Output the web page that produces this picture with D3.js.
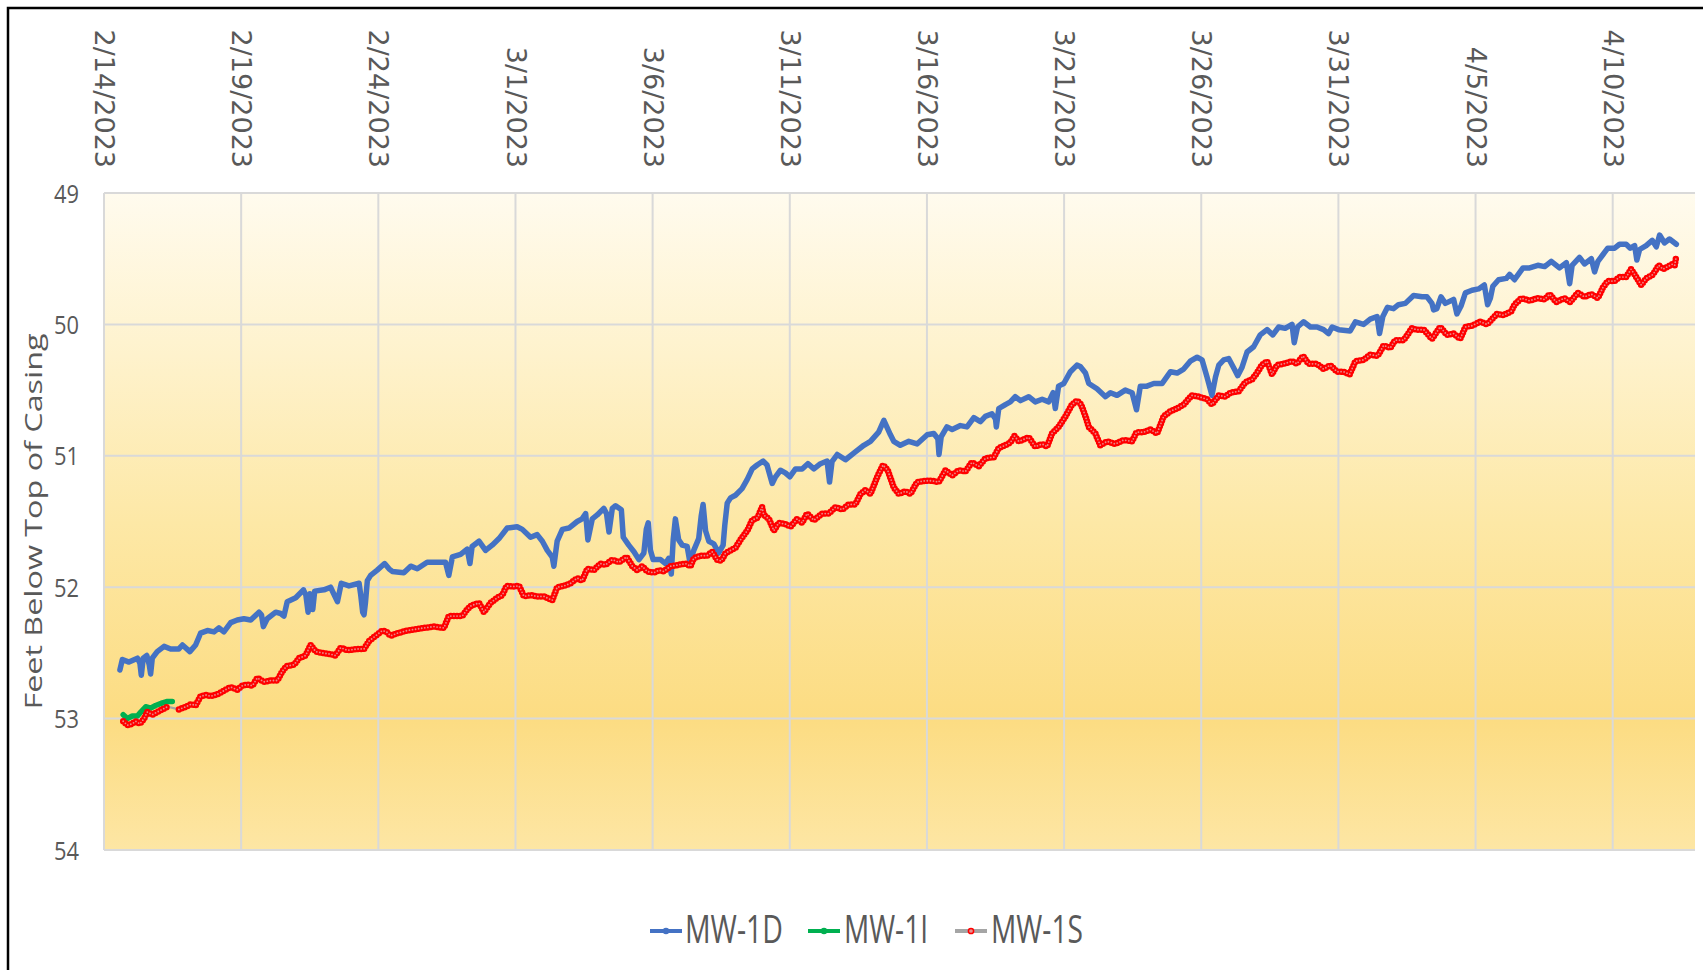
<!DOCTYPE html>
<html>
<head>
<meta charset="utf-8">
<script src="https://cdn.jsdelivr.net/npm/d3@7"></script>
<style>
  html, body { margin: 0; padding: 0; background: #ffffff; }
  svg { display: block; }
</style>
</head>
<body>
<svg id="chart" width="1703" height="970"></svg>
<script>
// ---------------- DATA ----------------
const startDateLabel = "2/14/2023";
const endDateLabel = "4/13/2023";
const xTickLabels = ["2/14/2023","2/19/2023","2/24/2023","3/1/2023","3/6/2023","3/11/2023",
                     "3/16/2023","3/21/2023","3/26/2023","3/31/2023","4/5/2023","4/10/2023"];
const yTickValues = [49, 50, 51, 52, 53, 54];
const yAxisTitle = "Feet Below Top of Casing";
const seriesNames = ["MW-1D", "MW-1I", "MW-1S"];

// days elapsed since 2/14/2023 00:00, and depth (ft below top of casing)
const mw1dDays = [0.58,0.67,0.91,1.22,1.31,1.36,1.43,1.56,1.65,1.70,1.76,1.94,2.19,2.43,2.73,2.86,3.13,3.34,3.52,3.77,4.01,4.19,4.37,4.62,4.86,5.10,5.35,5.65,5.74,5.81,5.95,6.26,6.44,6.56,6.68,6.99,7.27,7.36,7.44,7.51,7.61,7.68,8.02,8.26,8.51,8.65,8.93,9.30,9.36,9.43,9.48,9.53,9.60,9.72,9.96,10.23,10.39,10.51,10.93,11.18,11.42,11.78,12.03,12.45,12.57,12.70,13.00,13.24,13.34,13.42,13.67,13.91,14.15,14.40,14.70,15.06,15.25,15.55,15.79,15.98,16.16,16.34,16.40,16.52,16.71,16.95,17.25,17.43,17.56,17.64,17.80,17.98,18.22,18.32,18.41,18.53,18.65,18.86,18.93,19.13,19.32,19.50,19.68,19.77,19.84,19.92,20.02,20.29,20.47,20.59,20.68,20.75,20.83,20.95,21.08,21.26,21.36,21.50,21.68,21.77,21.84,21.93,22.05,22.23,22.41,22.57,22.63,22.72,22.84,23.02,23.26,23.45,23.63,23.81,24.03,24.17,24.36,24.48,24.66,24.84,25.00,25.21,25.45,25.66,25.88,26.12,26.36,26.45,26.54,26.73,27.03,27.39,27.70,27.94,28.24,28.43,28.67,28.79,29.03,29.34,29.64,30.01,30.25,30.40,30.44,30.52,30.73,30.92,31.22,31.46,31.71,31.95,32.13,32.37,32.50,32.53,32.62,32.86,33.04,33.22,33.41,33.71,33.95,34.20,34.44,34.60,34.68,34.80,34.99,35.23,35.47,35.59,35.78,35.90,36.20,36.51,36.69,36.93,37.23,37.48,37.64,37.78,38.02,38.27,38.57,38.88,39.12,39.36,39.60,39.85,40.03,40.21,40.39,40.52,40.64,40.82,41.00,41.18,41.33,41.48,41.67,41.91,42.15,42.40,42.61,42.82,43.06,43.31,43.39,43.51,43.73,43.98,44.22,44.46,44.64,44.77,45.01,45.43,45.62,45.92,46.16,46.41,46.50,46.62,46.79,47.01,47.19,47.44,47.74,48.05,48.23,48.41,48.47,48.59,48.74,48.90,49.20,49.32,49.47,49.63,49.87,50.11,50.32,50.44,50.54,50.63,50.84,51.12,51.24,51.42,51.73,51.97,52.27,52.52,52.76,53.06,53.31,53.37,53.43,53.52,53.79,53.97,54.22,54.34,54.46,54.64,54.82,55.07,55.25,55.49,55.64,55.80,55.88,55.98,56.22,56.44,56.59,56.71,56.89,57.07,57.32];
const mw1dValues = [52.63,52.55,52.57,52.54,52.58,52.67,52.54,52.52,52.59,52.66,52.54,52.49,52.45,52.47,52.47,52.44,52.49,52.44,52.35,52.33,52.34,52.31,52.34,52.27,52.25,52.24,52.25,52.19,52.21,52.30,52.24,52.19,52.20,52.22,52.11,52.08,52.02,52.06,52.19,52.05,52.17,52.03,52.02,52.00,52.11,51.97,51.99,51.97,52.06,52.19,52.21,52.12,51.95,51.91,51.87,51.82,51.86,51.88,51.89,51.84,51.86,51.81,51.81,51.81,51.91,51.77,51.75,51.71,51.82,51.69,51.65,51.72,51.68,51.63,51.55,51.54,51.56,51.62,51.60,51.65,51.72,51.77,51.84,51.65,51.56,51.55,51.50,51.48,51.44,51.64,51.48,51.45,51.40,51.44,51.58,51.40,51.38,51.41,51.62,51.68,51.73,51.79,51.74,51.56,51.51,51.72,51.79,51.79,51.82,51.78,51.90,51.64,51.48,51.64,51.68,51.69,51.81,51.72,51.63,51.46,51.37,51.57,51.65,51.67,51.74,51.68,51.53,51.36,51.32,51.30,51.25,51.18,51.10,51.07,51.04,51.07,51.21,51.16,51.11,51.13,51.16,51.10,51.10,51.06,51.10,51.06,51.04,51.20,51.045,50.99,51.03,50.97,50.92,50.89,50.82,50.73,50.84,50.89,50.92,50.89,50.91,50.84,50.83,50.87,50.99,50.855,50.78,50.80,50.77,50.78,50.71,50.74,50.70,50.68,50.72,50.78,50.64,50.61,50.59,50.55,50.58,50.55,50.59,50.57,50.59,50.52,50.64,50.47,50.45,50.36,50.31,50.32,50.37,50.45,50.49,50.55,50.52,50.54,50.50,50.52,50.65,50.47,50.47,50.45,50.45,50.36,50.37,50.34,50.28,50.25,50.27,50.40,50.54,50.40,50.31,50.27,50.26,50.33,50.39,50.33,50.21,50.17,50.08,50.04,50.08,50.02,50.03,50.00,50.14,50.02,49.98,50.02,50.02,50.04,50.07,50.02,50.04,50.05,49.98,50.00,49.96,49.94,50.07,49.94,49.87,49.88,49.85,49.84,49.78,49.79,49.79,49.84,49.89,49.88,49.79,49.84,49.81,49.92,49.86,49.76,49.74,49.73,49.70,49.85,49.80,49.71,49.66,49.65,49.62,49.66,49.57,49.57,49.55,49.56,49.52,49.57,49.53,49.61,49.69,49.55,49.49,49.54,49.50,49.60,49.52,49.47,49.42,49.42,49.39,49.39,49.42,49.40,49.51,49.43,49.40,49.36,49.41,49.32,49.38,49.35,49.39];

const mw1iDays = [0.70,0.85,1.03,1.22,1.34,1.52,1.70,1.88,2.13,2.31,2.49];
const mw1iValues = [52.97,53.00,52.98,52.98,52.95,52.91,52.92,52.90,52.88,52.87,52.87];

const mw1sDays = [0.70,0.85,1.03,1.15,1.31,1.46,1.58,1.76,1.94,2.13,2.31,2.73,2.98,3.18,3.34,3.52,3.71,3.89,4.19,4.43,4.62,4.86,5.04,5.22,5.41,5.59,5.83,6.08,6.32,6.50,6.66,6.93,7.11,7.35,7.53,7.72,7.96,8.26,8.44,8.63,8.87,9.23,9.48,9.66,9.90,10.15,10.30,10.45,10.70,11.05,11.66,12.03,12.39,12.57,12.82,13.06,13.24,13.39,13.67,13.85,14.09,14.34,14.52,14.68,14.88,15.13,15.31,15.55,15.79,16.04,16.34,16.52,16.77,17.01,17.25,17.43,17.62,17.86,18.10,18.28,18.53,18.77,19.05,19.26,19.44,19.62,19.80,20.05,20.23,20.41,20.65,20.95,21.20,21.38,21.50,21.74,21.99,22.17,22.35,22.50,22.66,22.84,23.02,23.20,23.45,23.63,23.83,23.99,24.05,24.24,24.42,24.60,24.84,25.03,25.27,25.45,25.63,25.88,26.18,26.42,26.67,26.91,27.15,27.39,27.58,27.76,27.94,28.19,28.40,28.57,28.79,28.97,29.22,29.40,29.64,29.95,30.19,30.43,30.68,30.92,31.16,31.40,31.64,31.89,32.13,32.44,32.62,32.86,33.04,33.19,33.35,33.71,33.95,34.20,34.38,34.56,34.80,35.05,35.29,35.47,35.62,35.78,35.90,36.14,36.32,36.57,36.87,37.17,37.48,37.64,37.90,38.15,38.39,38.63,38.88,39.12,39.36,39.66,39.91,40.21,40.39,40.64,40.88,41.06,41.36,41.61,41.85,42.03,42.21,42.40,42.58,42.76,43.00,43.31,43.49,43.71,43.91,44.22,44.46,44.70,44.95,45.19,45.41,45.62,45.92,46.16,46.43,46.65,46.89,47.07,47.38,47.68,47.86,48.11,48.41,48.71,48.96,49.20,49.44,49.63,49.87,50.17,50.42,50.60,50.78,51.02,51.30,51.42,51.67,51.97,52.27,52.52,52.70,52.94,53.24,53.45,53.73,53.97,54.22,54.46,54.64,54.82,55.07,55.25,55.49,55.67,55.86,56.04,56.22,56.47,56.68,56.83,57.01,57.19,57.26,57.32];
const mw1sValues = [53.02,53.05,53.04,53.02,53.04,53.00,52.95,52.97,52.95,52.93,52.91,52.93,52.91,52.89,52.90,52.83,52.82,52.83,52.81,52.78,52.76,52.78,52.75,52.74,52.75,52.69,52.72,52.71,52.71,52.64,52.60,52.59,52.54,52.52,52.44,52.49,52.50,52.51,52.52,52.46,52.48,52.47,52.47,52.41,52.37,52.33,52.34,52.37,52.35,52.33,52.31,52.30,52.31,52.22,52.22,52.22,52.17,52.14,52.12,52.19,52.12,52.08,52.06,51.99,51.995,51.99,52.07,52.06,52.07,52.07,52.10,52.00,51.99,51.97,51.93,51.95,51.86,51.87,51.82,51.83,51.79,51.81,51.77,51.84,51.87,51.84,51.88,51.89,51.87,51.88,51.84,51.83,51.82,51.84,51.78,51.76,51.76,51.73,51.79,51.80,51.74,51.72,51.70,51.64,51.57,51.49,51.47,51.39,51.45,51.48,51.57,51.51,51.52,51.54,51.48,51.51,51.44,51.49,51.44,51.44,51.39,51.41,51.37,51.37,51.29,51.26,51.29,51.16,51.07,51.11,51.24,51.29,51.27,51.29,51.20,51.19,51.19,51.20,51.11,51.15,51.11,51.12,51.05,51.08,51.02,51.01,50.94,50.92,50.90,50.85,50.89,50.86,50.93,50.91,50.93,50.83,50.78,50.70,50.61,50.58,50.61,50.70,50.78,50.83,50.92,50.89,50.91,50.88,50.89,50.82,50.82,50.80,50.83,50.70,50.66,50.64,50.61,50.54,50.55,50.57,50.61,50.54,50.55,50.52,50.51,50.44,50.42,50.37,50.31,50.28,50.38,50.31,50.30,50.28,50.30,50.24,50.30,50.30,50.34,50.31,50.36,50.36,50.38,50.28,50.27,50.23,50.24,50.16,50.18,50.12,50.12,50.03,50.04,50.04,50.11,50.02,50.08,50.07,50.11,50.02,50.01,49.98,50.00,49.96,49.92,49.93,49.90,49.85,49.80,49.82,49.80,49.81,49.77,49.83,49.80,49.83,49.76,49.79,49.77,49.80,49.72,49.67,49.67,49.64,49.64,49.58,49.64,49.70,49.65,49.62,49.55,49.58,49.56,49.54,49.55,49.48];
// MW-1S has no readings between these two times (shown as a bare connector line)
const mw1sGapFrom = 2.31, mw1sGapTo = 2.73;

// ---------------- CHART ----------------
const W = 1703, H = 970;
const plot = { left: 104, right: 1695, top: 193, bottom: 850 };
const svg = d3.select("#chart");
const parseDate = d3.utcParse("%m/%d/%Y");
const t0 = parseDate(startDateLabel);
const toDate = d => new Date(t0.getTime() + d * 864e5);

const x = d3.scaleUtc().domain([t0, parseDate(endDateLabel)]).range([plot.left, plot.right]);
const y = d3.scaleLinear().domain([49, 54]).range([plot.top, plot.bottom]);

const defs = svg.append("defs");
const grad = defs.append("linearGradient").attr("id", "bg").attr("x1", 0).attr("y1", 0).attr("x2", 0).attr("y2", 1);
[[0, "#fffbee"], [0.25, "#fef2cc"], [0.5, "#fde8a6"], [0.8, "#fcdc82"], [1, "#fde6a4"]]
  .forEach(([o, c]) => grad.append("stop").attr("offset", o).attr("stop-color", c));

svg.append("rect").attr("width", W).attr("height", H).attr("fill", "#ffffff");
svg.append("path").attr("d", `M8,${H + 5} V8 H${W + 5}`).attr("fill", "none")
  .attr("stroke", "#000").attr("stroke-width", 2.5);

svg.append("rect").attr("x", plot.left).attr("y", plot.top)
  .attr("width", plot.right - plot.left).attr("height", plot.bottom - plot.top)
  .attr("fill", "url(#bg)");

const xTicks = xTickLabels.map(parseDate);
const grid = svg.append("g").attr("stroke", "#d9d9d9").attr("stroke-width", 2);
grid.selectAll("line.h").data(yTickValues).join("line")
  .attr("x1", plot.left).attr("x2", plot.right)
  .attr("y1", d => y(d)).attr("y2", d => y(d));
grid.selectAll("line.v").data(xTicks).join("line")
  .attr("y1", plot.top).attr("y2", plot.bottom)
  .attr("x1", d => x(d)).attr("x2", d => x(d));

// X axis (top), rotated labels
const xAxis = d3.axisTop(x).tickValues(xTicks).tickFormat(d3.utcFormat("%-m/%-d/%Y")).tickSize(0).tickPadding(0);
const gx = svg.append("g").attr("transform", `translate(0,${plot.top})`).call(xAxis);
gx.select(".domain").remove();
gx.selectAll("text")
  .attr("font-family", "DejaVu Sans, Verdana, sans-serif").attr("font-size", 27)
  .attr("fill", "#595959")
  .attr("text-anchor", "end")
  .attr("transform", "rotate(90)")
  .attr("x", -25).attr("y", 0).attr("dy", "0.35em");

// Y axis
const yAxis = d3.axisLeft(y).tickValues(yTickValues).tickFormat(d3.format("d")).tickSize(0).tickPadding(25);
const gy = svg.append("g").attr("transform", `translate(${plot.left},0)`).call(yAxis);
gy.select(".domain").remove();
gy.selectAll("text")
  .attr("font-family", "Open Sans, Liberation Sans, sans-serif").attr("font-size", 26)
  .attr("fill", "#595959").attr("dy", "0.35em")
  .attr("textLength", 25).attr("lengthAdjust", "spacingAndGlyphs");

svg.append("text")
  .attr("transform", `translate(42,${(plot.top + plot.bottom) / 2}) rotate(-90)`)
  .attr("text-anchor", "middle")
  .attr("font-family", "Open Sans, Liberation Sans, sans-serif").attr("font-size", 23)
  .attr("fill", "#595959")
  .attr("textLength", 376).attr("lengthAdjust", "spacingAndGlyphs")
  .text(yAxisTitle);

// Series
const mk = (days, vals) => days.map((d, i) => ({ t: toDate(d), v: vals[i], d }));
const dD = mk(mw1dDays, mw1dValues);
const dI = mk(mw1iDays, mw1iValues);
const dS = mk(mw1sDays, mw1sValues);
const line = d3.line().x(p => x(p.t)).y(p => y(p.v));

const series = svg.append("g");
series.append("path").datum(dD).attr("d", line).attr("fill", "none")
  .attr("stroke", "#4472c4").attr("stroke-width", 5.5).attr("stroke-linejoin", "round").attr("stroke-linecap", "round");
series.append("path").datum(dI).attr("d", line).attr("fill", "none")
  .attr("stroke", "#00b050").attr("stroke-width", 5.5).attr("stroke-linejoin", "round").attr("stroke-linecap", "round");
// MW-1S: grey connector + red circular markers
series.append("path").datum(dS).attr("d", line).attr("fill", "none")
  .attr("stroke", "#a5a5a5").attr("stroke-width", 2.25);
const segs = [dS.filter(p => p.d <= mw1sGapFrom), dS.filter(p => p.d >= mw1sGapTo)];
segs.forEach(s => {
  series.append("path").datum(s).attr("d", line).attr("fill", "none")
    .attr("stroke", "#ff0000").attr("stroke-width", 6.5)
    .attr("stroke-linecap", "round").attr("stroke-linejoin", "round").attr("stroke-dasharray", "0 3.1");
  series.append("path").datum(s).attr("d", line).attr("fill", "none")
    .attr("stroke", "#e88a8a").attr("stroke-width", 1.8)
    .attr("stroke-linecap", "round").attr("stroke-linejoin", "round").attr("stroke-dasharray", "0 3.1");
});

// Legend
const legendItems = [
  { name: seriesNames[0], line: "#4472c4", dot: "#4472c4", x0: 650, tx: 685, tw: 98 },
  { name: seriesNames[1], line: "#00b050", dot: "#00b050", x0: 808, tx: 844, tw: 84 },
  { name: seriesNames[2], line: "#a5a5a5", dot: "#ff0000", x0: 955, tx: 991, tw: 92 }
];
const lg = svg.append("g");
legendItems.forEach(it => {
  lg.append("line").attr("x1", it.x0).attr("x2", it.x0 + 32).attr("y1", 931).attr("y2", 931)
    .attr("stroke", it.line).attr("stroke-width", 4);
  lg.append("circle").attr("cx", it.x0 + 16).attr("cy", 931).attr("r", it.dot === "#ff0000" ? 2.6 : 2.5)
    .attr("fill", it.dot === "#ff0000" ? "#e89090" : it.dot).attr("stroke", it.dot).attr("stroke-width", 1.5);
  lg.append("text").attr("x", it.tx).attr("y", 943)
    .attr("font-family", "Open Sans, Liberation Sans, sans-serif").attr("font-size", 38)
    .attr("fill", "#595959")
    .attr("textLength", it.tw).attr("lengthAdjust", "spacingAndGlyphs")
    .text(it.name);
});
</script>
</body>
</html>
